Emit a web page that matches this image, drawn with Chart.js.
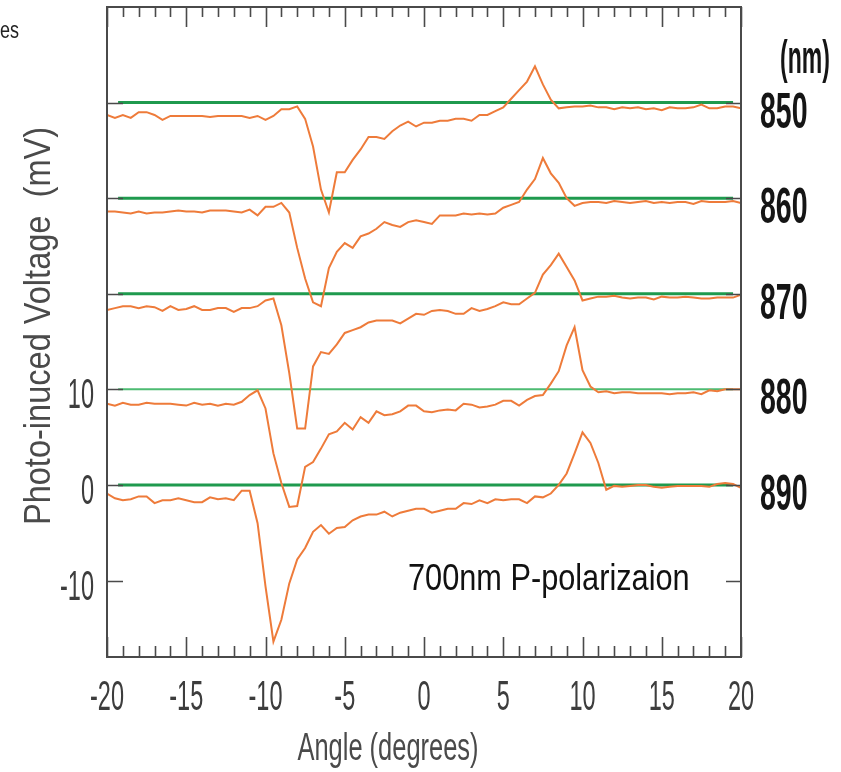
<!DOCTYPE html>
<html>
<head>
<meta charset="utf-8">
<script src="https://cdn.jsdelivr.net/npm/chart.js@4/dist/chart.umd.min.js"></script>
<style>
html,body{margin:0;padding:0;background:#fff;}
canvas{display:block;}
</style>
</head>
<body>
<canvas id="c" width="841" height="772"></canvas>
<script>
// ---------------- DATA ----------------
const angles = [-20,-19.5,-19,-18.5,-18,-17.5,-17,-16.5,-16,-15.5,
  -15,-14.5,-14,-13.5,-13,-12.5,-12,-11.5,-11,-10.5,
  -10,-9.5,-9,-8.5,-8,-7.5,-7,-6.5,-6,-5.5,
  -5,-4.5,-4,-3.5,-3,-2.5,-2,-1.5,-1,-0.5,
  0,0.5,1,1.5,2,2.5,3,3.5,4,4.5,
  5,5.5,6,6.5,7,7.5,8,8.5,9,9.5,
  10,10.5,11,11.5,12,12.5,13,13.5,14,14.5,
  15,15.5,16,16.5,17,17.5,18,18.5,19,19.5,
  20];

const v850 = [38.7,38.4,38.7,38.4,39.0,39.0,38.7,38.2,38.6,38.6,
  38.6,38.6,38.6,38.5,38.6,38.6,38.6,38.6,38.4,38.6,
  38.2,38.6,39.3,39.3,39.6,38.3,35.4,30.9,28.5,32.7,
  32.7,34.0,35.1,36.4,36.4,36.2,37.0,37.6,38.0,37.5,
  37.9,37.9,38.1,38.1,38.3,38.3,38.1,38.7,38.7,39.1,
  39.5,40.4,41.3,42.2,43.8,41.9,40.3,39.4,39.5,39.6,
  39.6,39.7,39.5,39.5,39.3,39.5,39.4,39.5,39.3,39.4,
  39.2,39.5,39.4,39.4,39.5,39.8,39.4,39.4,39.6,39.6,
  39.4];

const v860 = [28.6,28.6,28.5,28.4,28.6,28.4,28.5,28.5,28.6,28.7,
  28.6,28.6,28.5,28.7,28.7,28.7,28.6,28.5,28.8,28.2,
  29.1,29.1,29.5,28.5,24.8,21.6,19.1,18.7,22.7,24.4,
  25.3,24.8,26.0,26.3,26.8,27.5,27.2,27.0,27.5,27.7,
  27.5,27.3,28.2,28.2,28.2,28.4,28.3,28.4,28.3,28.4,
  29.0,29.3,29.6,30.9,32.0,34.2,32.6,31.6,30.0,29.2,
  29.5,29.6,29.6,29.5,29.7,29.6,29.5,29.6,29.7,29.5,
  29.6,29.5,29.6,29.6,29.4,29.7,29.6,29.6,29.6,29.7,
  29.5];

const v870 = [18.3,18.5,18.7,18.7,18.5,18.7,18.6,18.2,18.7,18.3,
  18.4,18.7,18.3,18.3,18.5,18.5,18.1,18.5,18.5,18.7,
  19.3,19.5,16.7,11.7,5.9,5.9,12.4,13.9,13.7,14.7,
  15.9,16.2,16.5,17.0,17.2,17.2,17.2,16.9,17.4,17.9,
  17.8,18.2,18.3,18.2,17.9,17.9,18.5,18.2,18.4,18.7,
  19.1,18.9,18.9,19.5,20.1,22.0,23.0,24.2,22.8,21.4,
  19.3,19.5,19.7,19.7,19.8,19.6,19.5,19.6,19.6,19.4,
  19.7,19.6,19.6,19.7,19.6,19.5,19.5,19.6,19.6,19.6,
  19.9];

const v880 = [8.5,8.3,8.6,8.4,8.4,8.6,8.5,8.5,8.5,8.4,
  8.3,8.6,8.4,8.5,8.3,8.5,8.4,8.7,9.4,9.9,
  8.0,3.3,0.2,-2.3,-2.2,1.9,2.4,3.8,5.3,5.6,
  6.5,5.8,7.1,6.5,7.7,7.3,7.4,7.7,8.3,8.3,
  7.7,7.6,7.8,7.9,7.8,8.5,8.4,8.1,8.2,8.4,
  8.8,8.8,8.3,8.9,9.3,9.4,10.6,11.9,14.6,16.5,
  12.0,10.3,9.7,9.8,9.6,9.7,9.7,9.6,9.6,9.6,
  9.6,9.5,9.6,9.6,9.7,9.5,9.9,9.8,10.0,10.0,
  10.0];

const v890 = [-0.9,-1.4,-1.6,-1.5,-1.2,-1.2,-1.9,-1.6,-1.6,-1.4,
  -1.6,-1.8,-1.8,-1.3,-1.5,-1.4,-1.6,-0.6,-0.6,-4.0,
  -10.6,-16.4,-14.1,-10.3,-7.8,-6.6,-4.9,-4.2,-5.1,-4.5,
  -4.4,-3.7,-3.3,-3.1,-3.1,-2.8,-3.3,-2.9,-2.7,-2.5,
  -2.5,-2.9,-2.7,-2.5,-2.5,-1.9,-2.0,-1.6,-1.9,-1.5,
  -1.6,-1.5,-1.5,-1.9,-1.2,-1.3,-0.9,0.0,1.2,3.3,
  5.5,4.4,2.3,-0.5,-0.1,-0.2,-0.1,0.0,0.0,-0.2,
  -0.3,-0.2,-0.1,-0.1,-0.1,-0.1,-0.2,0.1,0.2,0.1,
  -0.3];

const wavelengths = ['850','860','870','880','890'];
const baselines = [40,30,20,10,0];
const baselineSpan = [-19.3,19.5];

const xMajorTicks = [-20,-15,-10,-5,0,5,10,15,20];
const xMinorTicks = [-19,-18,-17,-16,-14,-13,-12,-11,-9,-8,-7,-6,-4,-3,-2,-1,1,2,3,4,6,7,8,9,11,12,13,14,16,17,18,19];
const yTicks = [-10,0,10,20,30,40];
const yTickLabels = ['-10','0','10','','',''];

const xTitle = 'Angle (degrees)';
const yTitle = 'Photo-inuced Voltage  (mV)';
const note = '700nm P-polarizaion';
const unitLabel = '(nm)';
const cornerText = 'es';

// ---------------- CHART ----------------
const series = [v850, v860, v870, v880, v890];
const ORANGE = '#ee7b3a';
const datasets = [];
baselines.forEach((b, i) => {
  datasets.push({
    data: baselineSpan.map(x => ({x, y: b})),
    borderColor: b === 10 ? '#4dbb72' : '#1f9a4e',
    borderWidth: b === 10 ? 2 : 3,
    pointRadius: 0, fill: false, order: 2
  });
});
series.forEach(vals => {
  datasets.push({
    data: angles.map((a, k) => ({x: a, y: vals[k]})),
    borderColor: ORANGE, borderWidth: 2,
    pointRadius: 0, fill: false, tension: 0, order: 1
  });
});

function txt(ctx, s, x, y, size, sx, align, color, weight, rot) {
  ctx.save();
  ctx.translate(x, y);
  if (rot) ctx.rotate(rot);
  ctx.scale(sx, 1);
  ctx.font = (weight || 'normal') + ' ' + size + 'px "Liberation Sans", Arial, sans-serif';
  ctx.textAlign = align;
  ctx.textBaseline = 'alphabetic';
  ctx.fillStyle = color;
  ctx.fillText(s, 0, 0);
  ctx.restore();
}

const frame = {
  id: 'frame',
  afterDraw(chart) {
    const ctx = chart.ctx, a = chart.chartArea;
    const xs = chart.scales.x, ys = chart.scales.y;
    const AX = '#4a4a4a';
    ctx.save();
    ctx.strokeStyle = AX;
    ctx.lineWidth = 2;
    ctx.strokeRect(a.left, a.top, a.right - a.left, a.bottom - a.top);
    ctx.lineWidth = 1.6;
    ctx.beginPath();
    xMajorTicks.forEach(v => {
      const p = Math.round(xs.getPixelForValue(v)) + 0.5;
      ctx.moveTo(p, a.bottom); ctx.lineTo(p, a.bottom - 20);
      ctx.moveTo(p, a.top); ctx.lineTo(p, a.top + 20);
    });
    xMinorTicks.forEach(v => {
      const p = Math.round(xs.getPixelForValue(v)) + 0.5;
      ctx.moveTo(p, a.bottom); ctx.lineTo(p, a.bottom - 11);
      ctx.moveTo(p, a.top); ctx.lineTo(p, a.top + 10);
    });
    yTicks.forEach(v => {
      const p = Math.round(ys.getPixelForValue(v)) + 0.5;
      ctx.moveTo(a.left, p); ctx.lineTo(a.left + 16, p);
      ctx.moveTo(a.right, p); ctx.lineTo(a.right - 15, p);
    });
    ctx.stroke();
    ctx.restore();

    const TC = '#3d3d3d';
    xMajorTicks.forEach(v => {
      txt(ctx, String(v), xs.getPixelForValue(v), a.bottom + 53, 42, 0.56, 'center', TC);
    });
    yTicks.forEach((v, i) => {
      if (yTickLabels[i]) txt(ctx, yTickLabels[i], a.left - 13, ys.getPixelForValue(v) + 19, 42, 0.56, 'right', TC);
    });
    baselines.forEach((b, i) => {
      txt(ctx, wavelengths[i], a.right + 19, ys.getPixelForValue(b) + 25, 50, 0.57, 'left', '#151515', 'bold');
    });
    txt(ctx, unitLabel, a.right + 64, 73, 46, 0.5, 'center', '#151515', 'bold');
    txt(ctx, xTitle, (a.left + a.right) / 2 - 36, a.bottom + 103, 38, 0.67, 'center', '#4a4a4a');
    txt(ctx, yTitle, 50, 326, 37, 0.88, 'center', '#4a4a4a', 'normal', -Math.PI / 2);
    txt(ctx, note, 408, 590, 37, 0.83, 'left', '#111');
    txt(ctx, cornerText, 0, 38, 24, 0.75, 'left', '#222');
  }
};

new Chart(document.getElementById('c'), {
  type: 'line',
  data: { datasets },
  options: {
    responsive: false,
    animation: false,
    devicePixelRatio: 1,
    layout: { padding: { left: 107, right: 100, top: 7, bottom: 115 } },
    scales: {
      x: { type: 'linear', min: -20, max: 20, display: false },
      y: { type: 'linear', min: -18, max: 50, display: false }
    },
    plugins: { legend: { display: false }, tooltip: { enabled: false } },
    elements: { point: { radius: 0 }, line: { tension: 0 } }
  },
  plugins: [frame]
});
</script>
</body>
</html>
